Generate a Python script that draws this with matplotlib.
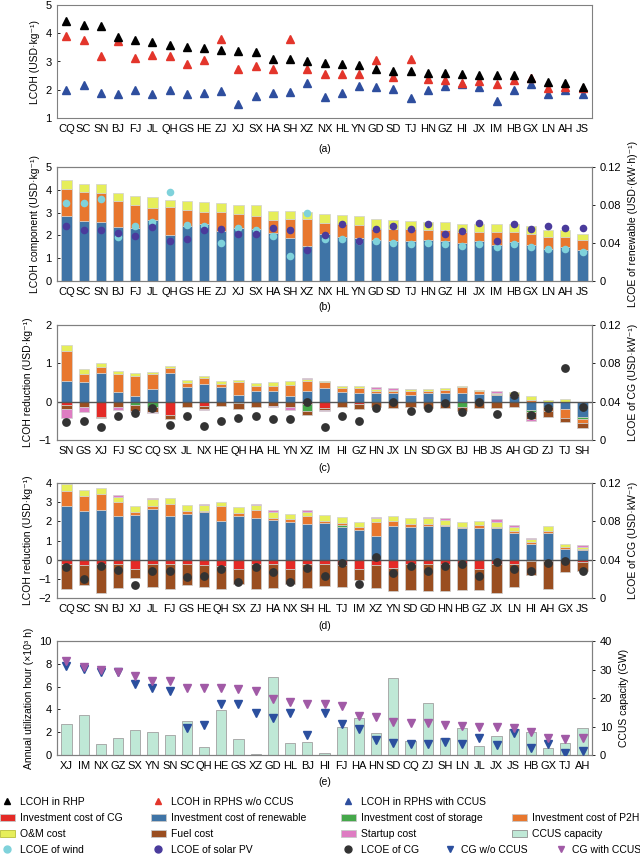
import numpy as np
import matplotlib
matplotlib.use("Agg")
import matplotlib.pyplot as plt
from matplotlib.lines import Line2D
from matplotlib.patches import Patch

plt.rcParams['font.family'] = ['Liberation Sans', 'DejaVu Sans']
plt.rcParams['font.size'] = 7.5
plt.rcParams['axes.edgecolor'] = '#808080'
plt.rcParams['axes.linewidth'] = 0.8

# ---------------- data ----------------
# (a) LCOH of the three systems
prov_a = ['CQ', 'SC', 'SN', 'BJ', 'FJ', 'JL', 'QH', 'GS', 'HE', 'ZJ', 'XJ', 'SX', 'HA', 'SH', 'XZ', 'NX',
          'HL', 'YN', 'GD', 'SD', 'TJ', 'HN', 'GZ', 'HI', 'JX', 'IM', 'HB', 'GX', 'LN', 'AH', 'JS']
lcoh_rhp = [4.45, 4.28, 4.26, 3.88, 3.76, 3.70, 3.59, 3.50, 3.47, 3.41, 3.38, 3.34, 3.10, 3.09, 3.02, 2.96,
            2.92, 2.89, 2.73, 2.68, 2.66, 2.61, 2.60, 2.54, 2.52, 2.52, 2.51, 2.42, 2.26, 2.24, 2.08]
lcoh_wo = [3.92, 3.76, 3.18, 3.72, 3.14, 3.24, 3.20, 2.92, 3.04, 3.80, 2.74, 2.85, 2.74, 3.79, 2.74, 2.54,
           2.55, 2.56, 3.06, 2.45, 3.10, 2.38, 2.36, 2.24, 2.30, 2.20, 2.36, 2.40, 2.05, 2.09, 2.05]
lcoh_w = [2.00, 2.18, 1.88, 1.86, 2.00, 1.85, 2.00, 1.85, 1.90, 1.95, 1.49, 1.79, 1.90, 1.92, 2.24, 1.76,
          1.90, 2.14, 2.08, 2.02, 1.70, 2.00, 2.12, 2.21, 2.08, 1.60, 2.00, 2.21, 1.85, 1.98, 1.85]

# (b) LCOH components in RHP (same order as a)
renew_b = [2.84, 2.62, 2.59, 2.35, 2.33, 2.67, 2.01, 2.40, 2.50, 2.19, 2.33, 2.30, 2.11, 1.87, 1.55, 2.08,
           1.91, 1.87, 1.79, 1.76, 1.75, 1.79, 1.76, 1.65, 1.76, 1.60, 1.69, 1.60, 1.40, 1.47, 1.36]
p2h_b = [1.18, 1.29, 1.27, 1.15, 1.01, 0.55, 1.24, 0.70, 0.53, 0.84, 0.60, 0.54, 0.56, 0.87, 1.16, 0.47,
         0.61, 0.58, 0.51, 0.51, 0.51, 0.44, 0.47, 0.51, 0.40, 0.56, 0.44, 0.48, 0.51, 0.44, 0.43]
om_b = [0.40, 0.36, 0.38, 0.36, 0.39, 0.47, 0.32, 0.40, 0.44, 0.37, 0.42, 0.48, 0.41, 0.32, 0.32, 0.41,
        0.37, 0.41, 0.40, 0.40, 0.38, 0.36, 0.36, 0.36, 0.33, 0.33, 0.36, 0.33, 0.32, 0.32, 0.29]
wind_b = [0.0826, 0.0822, 0.0868, 0.0465, 0.0577, 0.0623, 0.0938, 0.0588, 0.0577, 0.0402, 0.0563, 0.0542,
          0.0476, 0.0262, 0.0721, 0.0437, 0.0441, 0.0420, 0.0420, 0.0395, 0.0385, 0.0402, 0.0388, 0.0371,
          0.0388, 0.0360, 0.0388, 0.0360, 0.0332, 0.0336, 0.0301]
solar_b = [0.0577, 0.0535, 0.0535, 0.0507, 0.0476, 0.0570, 0.0420, 0.0437, 0.0535, 0.0546, 0.0490, 0.0490,
           0.0553, 0.0535, 0.0325, 0.0480, 0.0598, 0.0420, 0.0546, 0.0577, 0.0546, 0.0598, 0.0493, 0.0525,
           0.0612, 0.0423, 0.0605, 0.0546, 0.0580, 0.0560, 0.0563]

# (c) LCOH reduction, RPHS w/o CCUS
prov_c = ['SN', 'GS', 'XJ', 'FJ', 'SC', 'CQ', 'SX', 'JL', 'NX', 'HE', 'QH', 'HA', 'HL', 'YN', 'XZ', 'IM',
          'HI', 'GZ', 'HN', 'JX', 'LN', 'SD', 'GX', 'BJ', 'HB', 'JS', 'AH', 'GD', 'ZJ', 'TJ', 'SH']
cg_c = [-0.09, 0, -0.39, 0, 0, 0, -0.35, 0, -0.11, 0, 0, 0, 0, 0, -0.05, -0.17,
        0, -0.06, 0, 0, 0, 0, 0, 0, 0, 0, 0, 0, 0, 0, 0]
renew_c = [0.54, 0.51, 0.74, 0.24, 0.15, 0.33, 0.76, 0.39, 0.46, 0.37, 0.17, 0.29, 0.29, 0.16, 0.29, 0.35,
           0.26, 0.22, 0.22, 0.22, 0.17, 0.22, 0.22, 0.22, 0.20, 0.17, 0.15, -0.23, -0.15, -0.20, -0.39]
storage_c = [0, 0, 0, 0, -0.09, -0.15, 0, 0, 0, 0, -0.04, 0, 0, 0, -0.20, 0,
             0, 0, 0, 0, 0, 0, 0, -0.15, 0, 0, 0, -0.04, 0, 0, -0.06]
p2h_c = [0.77, 0.21, 0.16, 0.47, 0.52, 0.38, 0.13, 0.10, 0.17, 0.09, 0.35, 0.12, 0.13, 0.28, 0.25, 0.16,
         0.10, 0.13, 0.06, 0.06, 0.11, 0.07, 0.09, 0.15, 0.08, 0.02, 0.05, 0.04, -0.09, -0.23, -0.10]
om_c = [0.16, 0.14, 0.10, 0.09, 0.09, 0.06, 0.04, 0.07, 0.05, 0.08, 0.04, 0.07, 0.08, 0.09, 0.06, 0.03,
        0.05, 0.06, 0.04, 0.03, 0.04, 0.04, 0.04, 0.05, 0.03, 0.03, 0.06, 0.11, 0.04, 0.06, 0]
fuel_c = [-0.11, -0.13, -0.03, -0.15, -0.15, -0.11, -0.10, -0.13, -0.09, -0.11, -0.16, -0.15, -0.11, -0.13,
          -0.10, -0.04, -0.15, -0.13, -0.15, -0.16, -0.13, -0.17, -0.17, -0.09, -0.16, -0.16, -0.15, -0.17,
          -0.16, -0.11, -0.15]
startup_c = [-0.22, -0.13, 0, -0.07, -0.03, -0.03, 0, 0, -0.03, 0, 0, 0, -0.03, -0.09, 0.03, -0.03,
             0, 0, 0.05, 0.04, 0.02, 0, 0, 0, 0, 0.07, 0, -0.07, 0, 0, 0]
cg_lcoe_c = [0.0191, 0.0202, 0.0132, 0.0254, 0.0278, 0.0330, 0.0157, 0.0254, 0.0146, 0.0202, 0.0233, 0.0254,
             0.0216, 0.0223, 0.0400, 0.0139, 0.0254, 0.0202, 0.0337, 0.0400, 0.0303, 0.0330, 0.0383, 0.0289,
             0.0400, 0.0271, 0.0470, 0.0261, 0.0330, 0.0755, 0.0341]

# (d) LCOH reduction, RPHS with CCUS
prov_d = ['CQ', 'SC', 'SN', 'BJ', 'XJ', 'JL', 'FJ', 'GS', 'HE', 'QH', 'SX', 'ZJ', 'HA', 'NX', 'SH', 'HL',
          'TJ', 'IM', 'XZ', 'YN', 'SD', 'GD', 'HN', 'HB', 'GZ', 'JX', 'LN', 'HI', 'AH', 'GX', 'JS']
cg_d = [-0.24, -0.29, -0.24, -0.24, -0.50, -0.24, -0.24, -0.24, -0.29, -0.33, -0.50, -0.24, -0.24, -0.50,
        -0.24, -0.24, -0.29, -0.50, -0.29, -0.41, -0.24, -0.24, -0.21, -0.21, -0.50, -0.24, -0.21, -0.09,
        -0.07, 0, -0.12]
renew_d = [2.82, 2.55, 2.60, 2.29, 2.34, 2.64, 2.29, 2.38, 2.47, 2.00, 2.26, 2.16, 2.07, 1.95, 1.86, 1.90,
           1.72, 1.57, 1.26, 1.78, 1.69, 1.78, 1.74, 1.66, 1.66, 1.66, 1.40, 0.83, 1.40, 0.57, 0.52]
storage_d = [0, 0, 0, 0, 0, 0, 0, 0, 0, 0, 0, 0, 0, 0, 0, 0,
             0.08, 0, 0, 0, 0, 0, 0, 0, 0, 0, 0, 0, 0, 0, 0]
p2h_d = [0.75, 0.78, 0.81, 0.72, 0.16, 0.14, 0.60, 0.17, 0.09, 0.81, 0.16, 0.43, 0.09, 0.17, 0.43, 0.10,
         0.10, 0.12, 0.69, 0.22, 0.17, 0.09, 0.07, 0.07, 0.16, 0.03, 0.12, 0.09, 0.09, 0.09, 0.05]
om_d = [0.38, 0.30, 0.35, 0.26, 0.28, 0.38, 0.31, 0.31, 0.31, 0.22, 0.31, 0.28, 0.34, 0.26, 0.21, 0.33,
        0.34, 0.26, 0.21, 0.29, 0.29, 0.31, 0.26, 0.26, 0.19, 0.29, 0.21, 0.17, 0.26, 0.14, 0.09]
fuel_d = [-1.31, -1.03, -1.48, -1.22, -0.48, -1.17, -1.31, -1.09, -1.12, -1.22, -0.79, -1.31, -1.22, -0.79,
          -1.26, -1.14, -1.12, -0.57, -1.17, -1.21, -1.34, -1.38, -1.41, -1.38, -1.09, -1.48, -1.24, -0.72,
          -1.48, -0.64, -0.47]
startup_d = [0, 0, 0, 0.10, 0, 0.05, 0, 0, 0.02, 0, 0, 0.05, 0.07, 0, 0.08, 0,
             0, 0, 0.09, 0, 0, 0.03, 0.09, 0, 0, 0.14, 0.09, 0.03, 0, 0, 0.09]
cg_lcoe_d = [0.0324, 0.0203, 0.0331, 0.0290, 0.0134, 0.0279, 0.0279, 0.0214, 0.0231, 0.0300, 0.0162, 0.0324,
             0.0272, 0.0162, 0.0317, 0.0231, 0.0366, 0.0145, 0.0428, 0.0262, 0.0331, 0.0283, 0.0334, 0.0352,
             0.0228, 0.0376, 0.0307, 0.0279, 0.0369, 0.0383, 0.0279]

# (e) utilization hours of CG and CCUS capacity
prov_e = ['XJ', 'IM', 'NX', 'GZ', 'SX', 'YN', 'SN', 'SC', 'QH', 'HE', 'GS', 'XZ', 'GD', 'HL', 'BJ', 'HI',
          'FJ', 'HA', 'HN', 'SD', 'CQ', 'ZJ', 'SH', 'LN', 'JL', 'JX', 'JS', 'HB', 'GX', 'TJ', 'AH']
ccus_cap = [10.9, 13.9, 3.7, 6.1, 8.8, 8.0, 7.0, 11.9, 2.9, 15.8, 5.5, 0.35, 27.5, 4.1, 4.6, 0.6,
            9.7, 13.1, 7.6, 26.9, 4.9, 18.1, 5.8, 9.4, 3.2, 6.7, 9.0, 8.2, 2.3, 4.1, 9.4]
hrs_wo = [7.85, 7.54, 7.31, 7.30, 6.20, 5.85, 5.61, 2.34, 2.63, 4.44, 4.44, 3.65, 3.27, 3.65, 1.75, 3.71,
          2.69, 2.28, 1.32, 1.02, 0.96, 0.96, 1.11, 0.96, 1.46, 0.88, 1.90, 0.58, 0.94, 0.15, 0.38]
hrs_w = [8.25, 7.69, 7.46, 7.31, 6.96, 6.52, 6.49, 5.85, 5.85, 5.85, 5.79, 5.61, 4.91, 4.68, 4.44, 4.44,
         4.33, 3.42, 3.30, 2.92, 2.84, 2.78, 2.63, 2.54, 2.43, 2.43, 2.34, 2.05, 1.46, 1.40, 1.46]

# colours
c_cg = '#E42A26'
c_ren = '#3F74A6'
c_sto = '#45A84A'
c_p2h = '#E8772E'
c_om = '#E6EE5A'
c_fuel = '#9A4E20'
c_start = '#DE7CC2'
c_ccus = '#BFE8D6'
c_wind = '#7FD2DB'
c_solar = '#4A3B9C'
c_cgdot = '#333333'
c_wo = '#2B4F9E'
c_with = '#A15AA6'

FW, FH = 640, 855
fig = plt.figure(figsize=(6.4, 8.55), dpi=100)

def add_ax(top, bottom):
    return fig.add_axes([57 / FW, 1 - bottom / FH, 535 / FW, (bottom - top) / FH])

def setup(ax, cats):
    ax.set_xlim(-0.55, len(cats) - 0.45)
    ax.set_xticks(range(len(cats)))
    ax.set_xticklabels(cats, fontsize=8)
    ax.tick_params(axis='x', length=0, pad=4)
    ax.tick_params(axis='y', length=2.5, direction='in', width=0.6, labelsize=8, pad=4)

def right_axis(ax, lim, ticks, labels, label):
    ax2 = ax.twinx()
    ax2.set_ylim(*lim)
    ax2.set_yticks(ticks)
    ax2.set_yticklabels(labels, fontsize=8)
    ax2.tick_params(axis='y', length=2.5, direction='out', width=0.6, pad=3)
    ax2.set_ylabel(label, fontsize=7.5, labelpad=5)
    return ax2

def stack(ax, x, comps, colors, width=0.6):
    pos = np.zeros(len(x))
    neg = np.zeros(len(x))
    for vals, col in zip(comps, colors):
        v = np.array(vals, dtype=float)
        for part, base in ((np.where(v > 0, v, 0), pos), (np.where(v < 0, v, 0), neg)):
            m = part != 0
            if m.any():
                ax.bar(x[m], part[m], bottom=base[m], width=width, color=col,
                       edgecolor='#d0d0d0', linewidth=0.5, zorder=2)
            base += part

# ---------------- (a) ----------------
ax_a = add_ax(5, 118)
xa = np.arange(len(prov_a))
ax_a.plot(xa, lcoh_w, ls='none', marker='^', ms=6, color='#2E4E9E', zorder=3)
ax_a.plot(xa, lcoh_wo, ls='none', marker='^', ms=6, color='#E3352B', zorder=3)
ax_a.plot(xa, lcoh_rhp, ls='none', marker='^', ms=6, color='black', zorder=3)
setup(ax_a, prov_a)
ax_a.set_ylim(1, 5)
ax_a.set_yticks([1, 2, 3, 4, 5])
ax_a.set_ylabel('LCOH (USD·kg⁻¹)', fontsize=7.5)

# ---------------- (b) ----------------
ax_b = add_ax(167, 281)
xb = np.arange(len(prov_a))
stack(ax_b, xb, [renew_b, p2h_b, om_b], [c_ren, c_p2h, c_om])
setup(ax_b, prov_a)
ax_b.set_ylim(0, 5)
ax_b.set_yticks(range(6))
ax_b.set_ylabel('LCOH component (USD·kg⁻¹)', fontsize=7.5)
ax_b2 = right_axis(ax_b, (0, 0.12), [0, 0.04, 0.08, 0.12], ['0', '0.04', '0.08', '0.12'],
                   'LCOE of renewable (USD·(kW·h)⁻¹)')
ax_b2.scatter(xb, wind_b, s=30, color=c_wind, zorder=3, linewidths=0)
ax_b2.scatter(xb, solar_b, s=30, color=c_solar, zorder=3, linewidths=0)

# ---------------- (c) ----------------
ax_c = add_ax(325, 440)
xc = np.arange(len(prov_c))
stack(ax_c, xc, [cg_c, renew_c, storage_c, p2h_c, om_c, fuel_c, startup_c],
      [c_cg, c_ren, c_sto, c_p2h, c_om, c_fuel, c_start])
ax_c.axhline(0, color='#555555', lw=1, zorder=3)
setup(ax_c, prov_c)
ax_c.set_ylim(-1, 2)
ax_c.set_yticks([-1, 0, 1, 2])
ax_c.set_yticklabels(['−1', '0', '1', '2'])
ax_c.set_ylabel('LCOH reduction (USD·kg⁻¹)', fontsize=7.5)
ax_c2 = right_axis(ax_c, (0, 0.12), [0, 0.04, 0.08, 0.12], ['0', '0.04', '0.08', '0.12'],
                   'LCOE of CG (USD·kW⁻¹)')
ax_c2.scatter(xc, cg_lcoe_c, s=40, color=c_cgdot, zorder=4, linewidths=0)

# ---------------- (d) ----------------
ax_d = add_ax(483, 598)
xd = np.arange(len(prov_d))
stack(ax_d, xd, [cg_d, renew_d, storage_d, p2h_d, om_d, fuel_d, startup_d],
      [c_cg, c_ren, c_sto, c_p2h, c_om, c_fuel, c_start])
ax_d.axhline(0, color='#555555', lw=1, zorder=3)
setup(ax_d, prov_d)
ax_d.set_ylim(-2, 4)
ax_d.set_yticks(range(-2, 5))
ax_d.set_yticklabels(['−2', '−1', '0', '1', '2', '3', '4'])
ax_d.set_ylabel('LCOH reduction (USD·kg⁻¹)', fontsize=7.5)
ax_d2 = right_axis(ax_d, (0, 0.12), [0, 0.04, 0.08, 0.12], ['0', '0.04', '0.08', '0.12'],
                   'LCOE of CG (USD·kW⁻¹)')
ax_d2.scatter(xd, cg_lcoe_d, s=40, color=c_cgdot, zorder=4, linewidths=0)

# ---------------- (e) ----------------
ax_e = add_ax(641, 755)
xe = np.arange(len(prov_e))
setup(ax_e, prov_e)
ax_e.set_ylim(0, 10)
ax_e.set_yticks(range(0, 11, 2))
ax_e.set_ylabel('Annual utilization hour (×10³ h)', fontsize=7.5)
ax_e2 = right_axis(ax_e, (0, 40), [0, 10, 20, 30, 40], ['0', '10', '20', '30', '40'],
                   'CCUS capacity (GW)')
ax_e2.bar(xe, ccus_cap, width=0.6, color=c_ccus, edgecolor='#a0a0a0', linewidth=0.6)
ax_e.set_zorder(ax_e2.get_zorder() + 1)
ax_e.patch.set_visible(False)
ax_e.plot(xe, hrs_wo, ls='none', marker='v', ms=6, color=c_wo, zorder=3)
ax_e.plot(xe, hrs_w, ls='none', marker='v', ms=6, color=c_with, zorder=3)

# panel tags
xc_fig = (57 + 535 / 2) / FW
for tag, yy in zip(['(a)', '(b)', '(c)', '(d)', '(e)'], [149, 307, 468, 626, 782]):
    fig.text(xc_fig, 1 - yy / FH, tag, ha='center', va='center', fontsize=7.5)

# ---------------- legend ----------------
def tri(col, m='^'):
    return Line2D([], [], ls='none', marker=m, ms=4, color=col)

def dot(col):
    return Line2D([], [], ls='none', marker='o', ms=5, color=col)

def box(col, ec='#c8c8c8'):
    return Patch(facecolor=col, edgecolor=ec, linewidth=0.6)

entries = [
    (tri('black'), 'LCOH in RHP', 0, 802),
    (tri('#E3352B'), 'LCOH in RPHS w/o CCUS', 151, 802),
    (tri('#2E4E9E'), 'LCOH in RPHS with CCUS', 341, 802),
    (box(c_cg), 'Investment cost of CG', 0, 818),
    (box(c_ren), 'Investment cost of renewable', 151, 818),
    (box(c_sto), 'Investment cost of storage', 341, 818),
    (box(c_p2h), 'Investment cost of P2H', 512, 818),
    (box(c_om, '#b8bf3a'), 'O&M cost', 0, 834),
    (box(c_fuel), 'Fuel cost', 151, 834),
    (box(c_start), 'Startup cost', 341, 834),
    (box(c_ccus, '#909090'), 'CCUS capacity', 512, 834),
    (dot(c_wind), 'LCOE of wind', 0, 850),
    (dot(c_solar), 'LCOE of solar PV', 151, 850),
    (dot(c_cgdot), 'LCOE of CG', 341, 850),
    (tri(c_wo, 'v'), 'CG w/o CCUS', 445, 850),
    (tri(c_with, 'v'), 'CG with CCUS', 556, 850),
]
for h, lab, x0, y0 in entries:
    hl = 1.0 if x0 in (445, 556) else 1.4
    fig.legend([h], [lab], loc='center left', bbox_to_anchor=(x0 / FW, 1 - y0 / FH),
               frameon=False, fontsize=7.5, borderpad=0, borderaxespad=0,
               handlelength=hl, handleheight=0.7, handletextpad=0.5)

fig.savefig('out.png', dpi=100)
